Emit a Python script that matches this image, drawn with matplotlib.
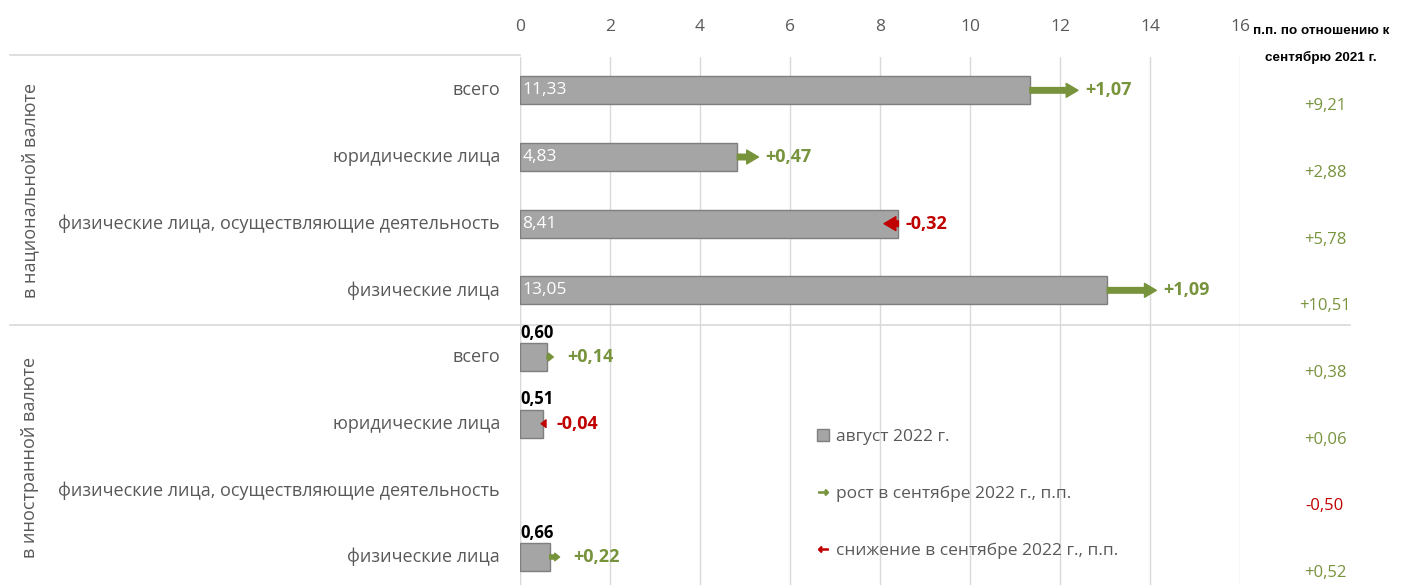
import matplotlib
matplotlib.use("Agg")
import matplotlib.pyplot as plt
from matplotlib.patches import Patch
from matplotlib.lines import Line2D
import matplotlib.transforms as mtransforms
import numpy as np

plt.rcParams['font.family'] = ['Open Sans', 'DejaVu Sans']

categories = ["всего", "юридические лица", "физические лица, осуществляющие деятельность", "физические лица",
              "всего", "юридические лица", "физические лица, осуществляющие деятельность", "физические лица"]
groups = ["в национальной валюте", "в иностранной валюте"]
aug_values = [11.33, 4.83, 8.41, 13.05, 0.60, 0.51, None, 0.66]
sep_change = [1.07, 0.47, -0.32, 1.09, 0.14, -0.04, None, 0.22]
yoy_change = [9.21, 2.88, 5.78, 10.51, 0.38, 0.06, -0.50, 0.52]
xticks = [0, 2, 4, 6, 8, 10, 12, 14, 16]

GREEN = "#77933C"
RED = "#C00000"
BAR = "#A5A5A5"
TXT = "#595959"

W, H = 1406, 585
fig = plt.figure(figsize=(W / 100, H / 100), dpi=100)
ax = fig.add_axes([520 / W, 0, (1240 - 520) / W, 1 - 57 / H])

def fmt(v, sign=False):
    s = f"{v:+.2f}" if sign else f"{v:.2f}"
    return s.replace(".", ",")

ax.set_xlim(0, 16)
ax.set_ylim(7.42, -0.5)

for i, v in enumerate(aug_values):
    if v is None:
        continue
    ax.barh(i, v, height=0.42, color=BAR, edgecolor="#7F7F7F", linewidth=1, zorder=3)
    big = v > 2
    if big:
        ax.text(0.05, i, fmt(v), color="white", fontsize=12.5, va="center", ha="left", zorder=4)
    else:
        ax.text(0.0, i - 0.23, fmt(v), color="black", fontsize=12, fontweight="bold",
                va="bottom", ha="left", zorder=4)
    d = sep_change[i]
    col = GREEN if d > 0 else RED
    end = v + d
    style = ("simple,head_width=1.0,head_length=0.85,tail_width=0.4" if big
             else "simple,head_width=0.55,head_length=0.35,tail_width=0.3")
    ax.annotate("", xy=(end, i), xytext=(v, i),
                arrowprops=dict(arrowstyle=style, color=col, shrinkA=0, shrinkB=0,
                                mutation_scale=10),
                zorder=5)
    tx = max(v, end) + (0.15 if big else 0.3)
    ax.text(tx, i, fmt(d, True), color=col, fontsize=13, fontweight="bold",
            va="center", ha="left", zorder=5)

# grid / axes styling
ax.set_xticks(xticks)
ax.xaxis.tick_top()
ax.tick_params(axis="x", length=0, pad=16, labelsize=12.5, labelcolor=TXT)
ax.set_yticks([])
ax.grid(axis="x", color="#D9D9D9", linewidth=1, zorder=0)
for s in ax.spines.values():
    s.set_visible(False)
ax.axvline(0, color="#D9D9D9", lw=1, zorder=1)

# category labels
trans_fy = mtransforms.blended_transform_factory(fig.transFigure, ax.transData)
for i, c in enumerate(categories):
    ax.text(500 / W, i, c, transform=trans_fy, ha="right", va="center",
            fontsize=13, color=TXT)

# group labels
for g, yc in zip(groups, [1.5, 5.5]):
    ax.text(30 / W, yc, g, transform=trans_fy, rotation=90, ha="center", va="center",
            fontsize=13, color=TXT)

# separators
fig.add_artist(Line2D([10 / W, 520 / W], [1 - 55 / H, 1 - 55 / H], transform=fig.transFigure,
                      color="#D9D9D9", lw=1.2))
ax.add_line(Line2D([10 / W, 1350 / W], [3.52, 3.52], transform=trans_fy, color="#D9D9D9",
                   lw=1.2, clip_on=False))

# right column
ax.text(1321 / W, 1 - 31 / H, "п.п. по отношению к", transform=fig.transFigure, ha="center",
        va="center", fontsize=9.7, fontweight="bold", color="black",
        family=["Liberation Sans", "DejaVu Sans"])
ax.text(1321 / W, 1 - 57 / H, "сентябрю 2021 г.", transform=fig.transFigure, ha="center",
        va="center", fontsize=9.7, fontweight="bold", color="black",
        family=["Liberation Sans", "DejaVu Sans"])
for i, v in enumerate(yoy_change):
    col = GREEN if v > 0 else RED
    ax.text(1325 / W, i + 0.24, fmt(v, True), transform=trans_fy, ha="center", va="center",
            fontsize=12, color=col)

# legend
handles = [
    Patch(facecolor=BAR, edgecolor="#7F7F7F"),
    Line2D([], [], ls="none", marker=r"$\rightarrow$", color=GREEN, markersize=7),
    Line2D([], [], ls="none", marker=r"$\leftarrow$", color=RED, markersize=7),
]
labels = ["август 2022 г.", "рост в сентябре 2022 г., п.п.", "снижение в сентябре 2022 г., п.п."]
leg = fig.legend(handles, labels, loc="upper left", bbox_to_anchor=(810 / W, 1 - 422 / H),
                 frameon=False, fontsize=12.5, labelspacing=2.35, handlelength=0.7,
                 handletextpad=0.4, borderaxespad=0)
for t in leg.get_texts():
    t.set_color(TXT)

fig.savefig("out.png", dpi=100)
